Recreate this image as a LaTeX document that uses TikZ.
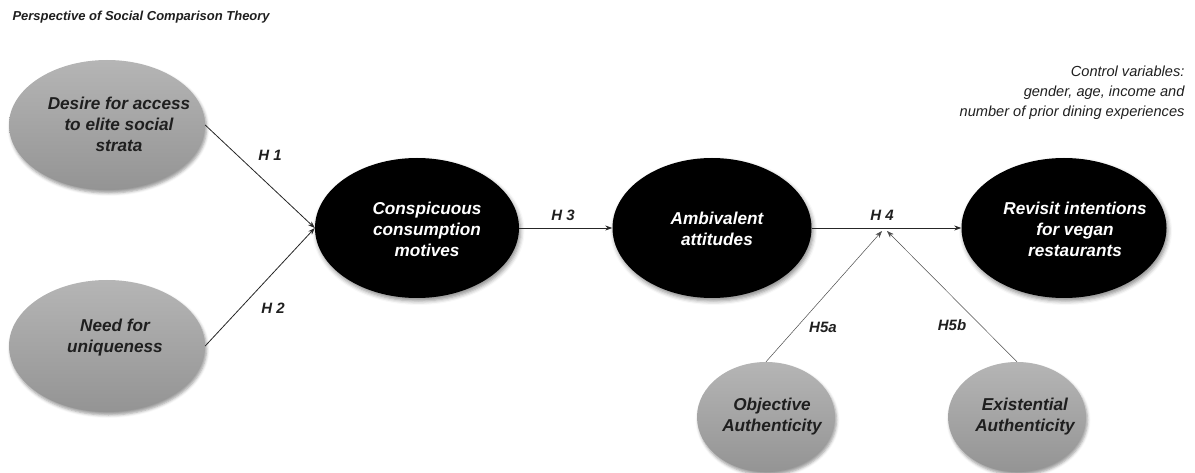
\documentclass[tikz,border=0pt]{standalone}
\usepackage{fontspec}
\setmainfont{Liberation Sans}
\usetikzlibrary{arrows.meta,shapes.geometric,shadows.blur}
\begin{document}
\begin{tikzpicture}[x=1pt,y=-1pt,
  construct/.style={ellipse, inner sep=0pt, draw=none},
  antecedent/.style={construct, top color=gray!58, bottom color=gray!84,
    blur shadow={shadow xshift=1.5pt, shadow yshift=-3pt, shadow blur radius=3pt, shadow opacity=40}},
  core/.style={construct, fill=black,
    blur shadow={shadow xshift=1.5pt, shadow yshift=-3pt, shadow blur radius=4pt, shadow opacity=45}},
  bodytext/.style={align=center, font=\fontsize{17.2}{21}\selectfont\bfseries\itshape},
  darktext/.style={bodytext, text=black!88},
  lighttext/.style={bodytext, text=white},
  hlabel/.style={font=\fontsize{15}{17}\selectfont\bfseries\itshape, text=black!88},
  path/.style={-{Stealth[length=7pt,width=5pt]}, line width=0.8pt, black!85},
  moderation/.style={-{Stealth[length=7pt,width=5pt]}, line width=0.5pt, black!70},
]
\useasboundingbox (0,0) rectangle (1195,473);

% heading and control variables
\node[anchor=west, font=\fontsize{13}{16}\selectfont\bfseries\itshape, text=black!88] (title) at (9,17)
  {Perspective of Social Comparison Theory};
\node[anchor=east, align=right, font=\fontsize{14.6}{20}\selectfont\itshape, text=black!88] (controls) at (1188,93)
  {Control variables:\\gender, age, income and\\number of prior dining experiences};

% antecedents
\node[antecedent, minimum width=196pt, minimum height=130pt] (desire) at (107,125) {};
\node[darktext] (desiretxt) at (119,124) {Desire for access\\to elite social\\strata};
\node[antecedent, minimum width=196pt, minimum height=132pt] (need) at (107,346) {};
\node[darktext] (needtxt) at (115,338) {Need for\\uniqueness};

% main constructs
\node[core, minimum width=204pt, minimum height=140pt] (consp) at (417,228) {};
\node[lighttext] (consptxt) at (427,229) {Conspicuous\\consumption\\motives};
\node[core, minimum width=199pt, minimum height=140pt] (ambi) at (712,228) {};
\node[lighttext] (ambitxt) at (717,229) {Ambivalent\\attitudes};
\node[core, minimum width=205pt, minimum height=140pt] (revisit) at (1064,228) {};
\node[lighttext] (revisittxt) at (1075,229) {Revisit intentions\\for vegan\\restaurants};

% moderators
\node[antecedent, minimum width=138pt, minimum height=110pt] (objective) at (766,417) {};
\node[darktext] (objectivetxt) at (772,417) {Objective\\Authenticity};
\node[antecedent, minimum width=138pt, minimum height=110pt] (existential) at (1017,417) {};
\node[darktext] (existentialtxt) at (1025,417) {Existential\\Authenticity};

% structural paths
\draw[path] (desire.east) -- (consp.west);
\draw[path] (need.east) -- (consp.west);
\draw[path] (consp.east) -- (ambi.west);
\draw[path] (ambi.east) -- (revisit.west);

% moderating effects on H4
\coordinate (moda) at (882,231);
\coordinate (modb) at (887,231);
\draw[moderation] (objective.north) -- (moda);
\draw[moderation] (existential.north) -- (modb);

% hypothesis labels
\node[hlabel] (h1) at (270,155) {H 1};
\node[hlabel] (h2) at (273,308) {H 2};
\node[hlabel] (h3) at (563,215) {H 3};
\node[hlabel] (h4) at (882,215) {H 4};
\node[hlabel] (h5a) at (823,327) {H5a};
\node[hlabel] (h5b) at (952,325) {H5b};
\end{tikzpicture}
\end{document}
